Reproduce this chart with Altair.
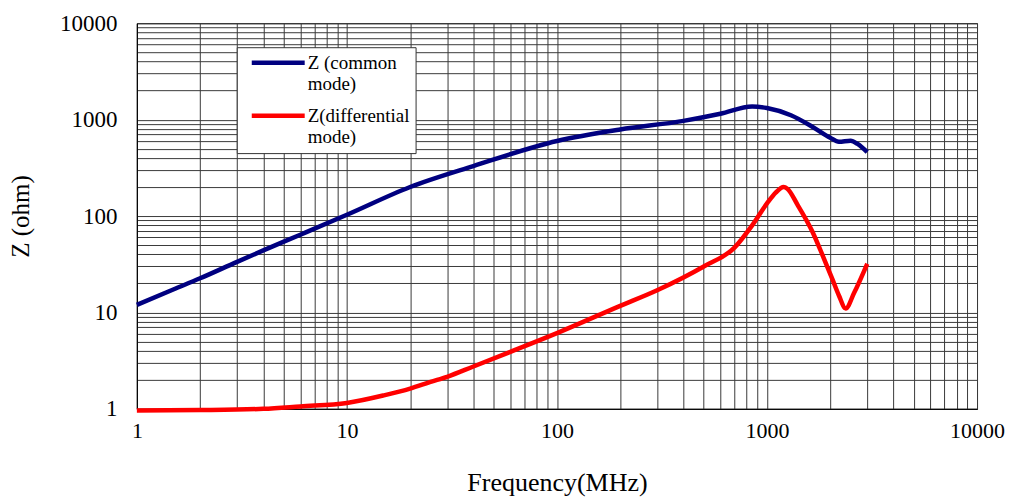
import altair as alt
import pandas as pd

# Common mode impedance
freq_common = [1, 1.5, 2, 3, 4, 6, 10, 20, 40, 100, 200, 400, 600, 850, 1000, 1300, 1650, 2000, 2200, 2500, 2700, 3000]
z_common = [12, 17.4, 22.6, 33.5, 44, 64, 103, 200, 330, 600, 790, 970, 1150, 1370, 1320, 1110, 840, 650, 590, 605, 560, 460]

# Differential mode impedance
freq_diff = [1, 2, 4, 6, 10, 15, 20, 25, 30, 40, 60, 100, 200, 300, 500, 700, 850, 1000, 1100, 1200, 1250, 1400, 1650, 1850, 2050, 2200, 2370, 2600, 3000]
z_diff = [0.96, 0.97, 1.0, 1.06, 1.15, 1.38, 1.62, 1.9, 2.15, 2.75, 3.9, 6.1, 11.7, 17, 30, 47, 80, 135, 175, 200, 192, 130, 68, 38, 22, 15, 11, 16, 32]

series_names = ["Z (common mode)", "Z(differential mode)"]
series_colors = ["#000080", "#ff0000"]

decades = [1, 10, 100, 1000]
grid_values = [d * k for d in decades for k in range(1, 10)] + [10000]

df = pd.concat([
    pd.DataFrame({"f": freq_common, "z": z_common, "s": series_names[0], "o": range(len(freq_common))}),
    pd.DataFrame({"f": freq_diff, "z": z_diff, "s": series_names[1], "o": range(len(freq_diff))}),
])

FONT = "Liberation Serif"
label_expr = "indexof([1,10,100,1000,10000], datum.value) >= 0 ? format(datum.value, 'd') : ''"

common_axis = dict(values=grid_values, labelExpr=label_expr,
                   grid=True, gridColor="#3a3a3a", gridOpacity=1, gridWidth=1,
                   ticks=False, labelFlush=False, labelOverlap=False,
                   labelColor="black", labelFont=FONT,
                   titleFont=FONT, titleFontWeight="normal", titleColor="black",
                   domainColor="black")

chart = alt.Chart(df).mark_line(strokeWidth=4.5, interpolate="monotone", clip=False).encode(
    x=alt.X("f:Q", scale=alt.Scale(type="log", domain=[1, 10000], nice=False),
            axis=alt.Axis(title="Frequency(MHz)", labelFontSize=22, labelPadding=12,
                          titleFontSize=26, titlePadding=28, **common_axis)),
    y=alt.Y("z:Q", scale=alt.Scale(type="log", domain=[1, 10000], nice=False),
            axis=alt.Axis(title="Z (ohm)", labelFontSize=23, labelPadding=20,
                          titleFontSize=25, titlePadding=26, **common_axis)),
    color=alt.Color("s:N", scale=alt.Scale(domain=series_names, range=series_colors),
                    legend=alt.Legend(title=None, orient="none", legendX=100, legendY=24,
                                      symbolType="M-13.25,0L13.25,0", symbolStrokeWidth=4.5,
                                      symbolSize=16, symbolOffset=26,
                                      labelFont=FONT, labelFontSize=19, labelColor="black",
                                      labelExpr="datum.label == 'Z (common mode)' ? ['Z (common', 'mode)'] : ['Z(differential', 'mode)']",
                                      labelBaseline="middle", labelOffset=20,
                                      fillColor="white", strokeColor="#333333", padding=6,
                                      rowPadding=12, labelLimit=200)),
    order="o:Q",
).properties(
    width=841, height=386,
    autosize=alt.AutoSizeParams(type="none"),
    padding={"left": 129, "top": 15, "right": 28, "bottom": 89},
).configure_view(stroke="black", strokeWidth=1)

chart.save("out.html", embed_options={"renderer": "svg", "actions": False})
